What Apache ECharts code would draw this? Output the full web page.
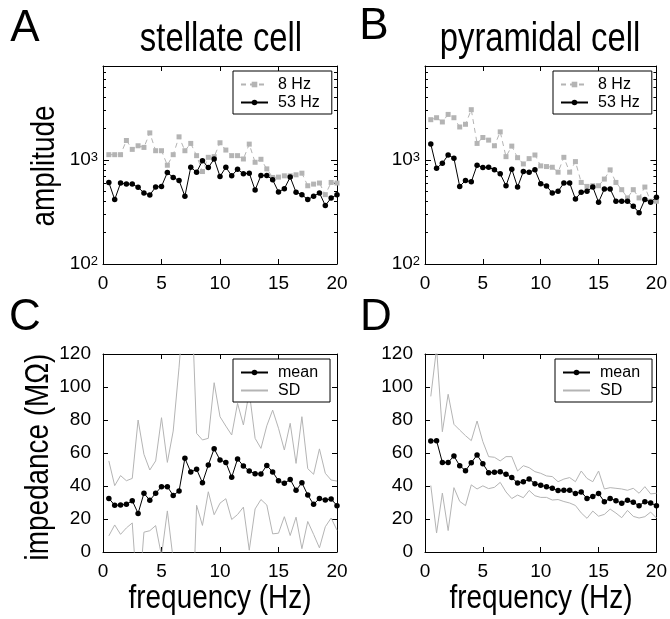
<!DOCTYPE html>
<html><head><meta charset="utf-8">
<script src="https://cdn.jsdelivr.net/npm/echarts@6/dist/echarts.min.js"></script>
<style>html,body{margin:0;padding:0;background:#fff}#c{width:670px;height:619px}</style>
</head><body><div id="c"></div>
<script>
// ---------------- data ----------------
const freq = [0.5,1,1.5,2,2.5,3,3.5,4,4.5,5,5.5,6,6.5,7,7.5,8,8.5,9,9.5,10,
              10.5,11,11.5,12,12.5,13,13.5,14,14.5,15,15.5,16,16.5,17,17.5,18,18.5,19,19.5,20];

const stellate8Hz  = [1124,1124,1124,1539,1264,1369,1320,1820,1227,1227,890,1124,1668,1227,1442,1100,774,1060,1076,1463,
                      1245,1100,1100,1022,1420,950,1015,821,679,684,704,704,720,746,565,586,600,464,608,600];
const stellate53Hz = [608,416,600,586,586,546,482,461,549,557,757,679,635,448,851,763,985,845,1022,694,
                      851,704,815,736,746,514,709,709,645,492,530,684,489,464,416,448,482,365,431,464];

const pyramidal8Hz  = [2438,2547,2318,2740,2547,2075,2202,3042,1442,1644,1551,1369,1862,1076,1359,1052,916,1030,1116,877,
                       864,851,763,1060,763,964,608,557,565,565,655,803,608,518,432,518,432,549,401,401];
const pyramidal53Hz = [1420,833,930,1116,1037,557,635,617,890,845,851,803,736,565,815,549,774,763,803,591,
                       562,482,500,600,600,422,489,500,549,393,526,526,401,401,401,359,311,416,393,438];

const stellateMean = [32.5,28.3,28.5,28.9,31.1,23.4,35.6,31.3,35.6,39.6,39.6,34.3,37.0,56.8,48.5,50.1,42.0,52.7,62.6,55.8,
                      54.3,45.3,56.4,52.1,49.1,47.5,47.3,52.5,48.5,43.2,41.6,44.0,37.4,42.0,34.5,28.9,32.5,31.5,32.1,28.1];
const stellateSD   = [22.7,11.9,17.8,14.3,13.5,56.6,23.6,18.4,19.6,41.8,14.7,39.0,75,100,120,21.8,25.9,16.2,40,26.2,
                      22,25.6,33.7,24.9,48,21.4,15.5,24,37.5,31.8,20.2,34,16.3,40,16,18.2,30,16.2,11.5,14.9];

const pyramidalMean = [67.3,67.5,54.3,54.3,58.2,52.3,49.3,54.1,58.8,53.5,48.1,48.3,48.7,47.1,45.1,41.8,42.6,44.2,41.4,40.4,
                       39.6,38.6,37.2,37.4,37.4,35.4,36.4,32.5,33.7,35.4,30.5,32.5,31.1,29.5,31.3,30.1,28.1,30.5,29.7,28.1];
const pyramidalSD   = [27,56,18.6,41.3,19.2,21.6,21.2,13.4,20.6,13.4,9.7,9.1,6.5,10.7,12.7,7.3,9.7,6.9,7.3,7.3,
                       6.5,7.1,5.4,6.8,7.7,7.2,12.7,12.1,8.9,13.7,7.7,6.5,7.5,8.7,6.1,8.5,7.5,9.1,5.5,7.5];

// tick values / labels
const freqTickLabels = [0,5,10,15,20];
const logMajorTicks  = [100,1000];
const logMinorTicks  = [200,300,400,500,600,700,800,900,2000,3000,4000,5000,6000,7000,8000];
const impTickLabels  = [0,20,40,60,80,100,120];

// ---------------- styling / layout ----------------
const FN  = "'Liberation Sans',Arial,sans-serif";
const GRAY = '#b4b4b4';
const NARROW = 0.82;
const LMIN = Math.log10(100), LMAX = Math.log10(8000);

const grids = [
  {left:103, top:66,  width:234, height:198},
  {left:425, top:66,  width:232, height:198},
  {left:103, top:354, width:234, height:198},
  {left:425, top:354, width:232, height:198}
];

function xAx(g, bottom) {
  return {type:'value', gridIndex:g, min:freqTickLabels[0], max:freqTickLabels[freqTickLabels.length-1], interval:5,
    position: bottom ? 'bottom' : 'top',
    axisLine:{show:true, onZero:false, lineStyle:{color:'#000', width:1}},
    axisTick:{show:true, inside:true, length:5, lineStyle:{color:'#000'}},
    axisLabel:{show:bottom, color:'#000', fontFamily:FN, fontSize:19, margin:10},
    splitLine:{show:false}};
}
function helperLogAxis(g, pos, ticks, len, labels, line) {
  const vals = ticks.map(Math.log10);
  return {type:'value', gridIndex:g, min:LMIN, max:LMAX, position:pos,
    axisLine:{show:line, onZero:false, lineStyle:{color:'#000'}},
    axisTick:{show:true, inside:true, length:len, customValues:vals, lineStyle:{color:'#000'}},
    axisLabel:{show:labels, customValues:vals, margin:5, color:'#000',
      formatter: v => '{b|10}{s|' + Math.round(v) + '}',
      rich:{b:{fontFamily:FN, fontSize:19, color:'#000'}, s:{fontFamily:FN, fontSize:13, color:'#000', verticalAlign:'top', padding:[0,0,6,0]}}},
    splitLine:{show:false}};
}
function logAxes(g) {
  return [
    {type:'log', logBase:10, gridIndex:g, min:logMajorTicks[0], max:logMinorTicks[logMinorTicks.length-1], position:'left',
     axisLine:{show:true, onZero:false, lineStyle:{color:'#000'}}, axisTick:{show:false}, axisLabel:{show:false}, splitLine:{show:false}},
    helperLogAxis(g,'left', logMajorTicks, 6, true,  false),
    helperLogAxis(g,'left', logMinorTicks, 3, false, false),
    helperLogAxis(g,'right',logMajorTicks, 6, false, true),
    helperLogAxis(g,'right',logMinorTicks, 3, false, false)
  ];
}
function impAxes(g) {
  const base = {type:'value', gridIndex:g, min:impTickLabels[0], max:impTickLabels[impTickLabels.length-1], interval:20,
    axisLine:{show:true, onZero:false, lineStyle:{color:'#000'}},
    axisTick:{show:true, inside:true, length:5, lineStyle:{color:'#000'}},
    splitLine:{show:false}};
  return [
    Object.assign({}, base, {position:'left', axisLabel:{show:true, color:'#000', fontFamily:FN, fontSize:19, margin:12}}),
    Object.assign({}, base, {position:'right', axisLabel:{show:false}})
  ];
}

const xAxis = [xAx(0,true), xAx(0,false), xAx(1,true), xAx(1,false), xAx(2,true), xAx(2,false), xAx(3,true), xAx(3,false)];
const yAxis = [].concat(logAxes(0), logAxes(1), impAxes(2), impAxes(3)); // A:0-4, B:5-9, C:10-11, D:12-13

const pts = ys => freq.map((f,i) => [f, ys[i]]);
const band = (m, s, sign) => freq.map((f,i) => [f, m[i] + sign*s[i]]);

function grayHz(data, xi, yi) {
  return {name:'8 Hz', type:'line', xAxisIndex:xi, yAxisIndex:yi, data, symbol:'rect', symbolSize:5,
    lineStyle:{color:GRAY, width:1, type:[5,4]}, itemStyle:{color:GRAY}, z:2, silent:true};
}
function blackLine(name, data, xi, yi) {
  return {name, type:'line', xAxisIndex:xi, yAxisIndex:yi, data, symbol:'circle', symbolSize:5.5,
    lineStyle:{color:'#000', width:1}, itemStyle:{color:'#000'}, z:3, silent:true};
}
function sdLine(data, xi, yi) {
  return {name:'SD', type:'line', xAxisIndex:xi, yAxisIndex:yi, data, symbol:'none',
    lineStyle:{color:GRAY, width:1}, itemStyle:{color:GRAY}, z:2, silent:true};
}

const series = [
  grayHz(pts(stellate8Hz), 0, 0),
  blackLine('53 Hz', pts(stellate53Hz), 0, 0),
  grayHz(pts(pyramidal8Hz), 2, 5),
  blackLine('53 Hz', pts(pyramidal53Hz), 2, 5),
  sdLine(band(stellateMean, stellateSD, 1), 4, 10),
  sdLine(band(stellateMean, stellateSD, -1), 4, 10),
  blackLine('mean', pts(stellateMean), 4, 10),
  sdLine(band(pyramidalMean, pyramidalSD, 1), 6, 12),
  sdLine(band(pyramidalMean, pyramidalSD, -1), 6, 12),
  blackLine('mean', pts(pyramidalMean), 6, 12)
];

function leg(names, left, top) {
  return {show:true, data:names, orient:'vertical', left, top, itemWidth:27, itemHeight:7, itemGap:1,
    padding:[5,12,3,7], borderColor:'#000', borderWidth:1, backgroundColor:'#fff', borderRadius:0,
    selectedMode:false, align:'left',
    textStyle:{fontFamily:FN, fontSize:16, color:'#000', lineHeight:17, padding:[0,0,0,5]}};
}
const sdItem = {name:'SD', itemStyle:{color:'rgba(0,0,0,0)', opacity:0, borderWidth:0}};

function txt(text, x, y, size, rot, sx) {
  return {type:'text', x, y, rotation: rot || 0, scaleX: sx || 1, silent:true,
    style:{text, fill:'#000', font: size + 'px ' + FN, textAlign:'center', textVerticalAlign:'middle'}};
}

const option = {
  animation:false,
  backgroundColor:'#fff',
  grid: grids,
  xAxis, yAxis, series,
  legend:[leg(['8 Hz','53 Hz'],233,71), leg(['8 Hz','53 Hz'],553,71),
          leg(['mean',sdItem],233,359), leg(['mean',sdItem],555,359)],
  graphic:[
    txt('A', 25, 29, 44), txt('B', 374, 27, 44),
    txt('C', 25, 318, 44), txt('D', 376, 318, 44),
    txt('stellate cell', 221, 40, 40, 0, NARROW), txt('pyramidal cell', 540, 40, 40, 0, NARROW),
    txt('amplitude', 45, 166, 34, Math.PI/2, NARROW),
    txt('impedance (MΩ)', 39, 457, 34, Math.PI/2, NARROW),
    txt('frequency (Hz)', 220, 599, 34, 0, NARROW), txt('frequency (Hz)', 541, 599, 34, 0, NARROW)
  ]
};
const chart = echarts.init(document.getElementById('c'), null, {renderer:'canvas'});
chart.setOption(option);
</script></body></html>
